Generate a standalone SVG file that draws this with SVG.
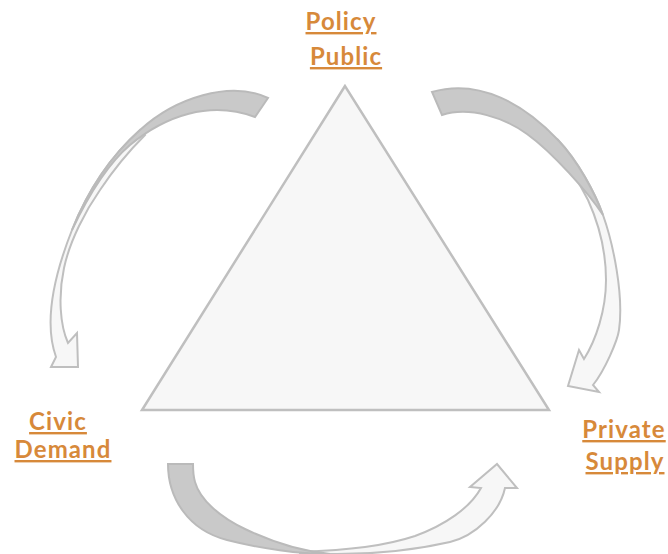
<svg xmlns="http://www.w3.org/2000/svg" width="668" height="554" viewBox="0 0 668 554">
<style>
.bg{fill:#ffffff}
.tri{fill:#f7f7f7;stroke:#bfbfbf;stroke-width:2.5;stroke-linejoin:miter}
.light{fill:#f7f7f7;stroke:#bfbfbf;stroke-width:2;stroke-linejoin:miter}
.dark{fill:#c9c9c9;stroke:#bababa;stroke-width:2;stroke-linejoin:miter}
.lbl{font-family:Lato,"Liberation Sans",sans-serif;font-weight:bold;font-size:24px;letter-spacing:1.1px;fill:#d7893a;text-anchor:middle;text-decoration:underline}
</style>
<rect class="bg" x="0" y="0" width="668" height="554"/>
<g id="triangle">
<polygon class="tri" points="345,86 142,410 549,410"/>
</g>
<g id="connectors">
<g id="arrow-policy-civic">
<path class="light" d="M 140,130 C 112,155 88,190 72,230 C 57,268 42,318 56,357 L 51,367 L 78,367 L 77,333 L 68,343 C 60,325 58,296 64,268 C 70,240 86,210 100,190 C 112,172 128,152 145,135 Z"/>
<path class="dark" d="M 268,98 C 230,80 175,98 140,130 C 112,155 88,190 72,230 C 90,192 110,162 130,145 C 165,116 210,100 255,117 Z"/>
</g>
<g id="arrow-policy-private">
<path class="light" d="M 558,140 C 578,161 595,193 603,215 C 613,243 624,295 619,330 C 617.5,340.5 605,370 593,385 L 599,392 L 568,386 L 579,350 L 584,359 C 596,340 606,310 606,280 C 606,250 598,222 588,200 C 578,180 568,165 555,150 Z"/>
<path class="dark" d="M 432,92 C 480,78 525,105 558,140 C 578,161 595,193 603,215 C 588,192 552,152 527,134 C 505,118 470,106 442,115 Z"/>
</g>
<g id="arrow-civic-private">
<path class="light" d="M 300,553.5 C 310,554 320,554 330,554 C 370,554.5 415,550 450,542 C 475,536 500,512 505,488 L 517,488 L 497,464 L 470,487 L 481,488 C 470,508 445,525 415,536 C 385,546 350,550 300,552 Z"/>
<path class="dark" d="M 168,464 C 168,498 188,530 227,540 C 260,548.5 300,554 330,554 C 300,551 270,541 245,529 C 220,517 200,500 195,482 C 193,475 193,470 193,464 Z"/>
</g>
</g>
<g id="node-policy-public">
<text class="lbl" x="341" y="30">Policy</text>
<text class="lbl" x="346" y="65">Public</text>
</g>
<g id="node-civic-demand">
<text class="lbl" x="58" y="430">Civic</text>
<text class="lbl" x="63" y="458">Demand</text>
</g>
<g id="node-private-supply">
<text class="lbl" x="624" y="438">Private</text>
<text class="lbl" x="625" y="470">Supply</text>
</g>
</svg>
